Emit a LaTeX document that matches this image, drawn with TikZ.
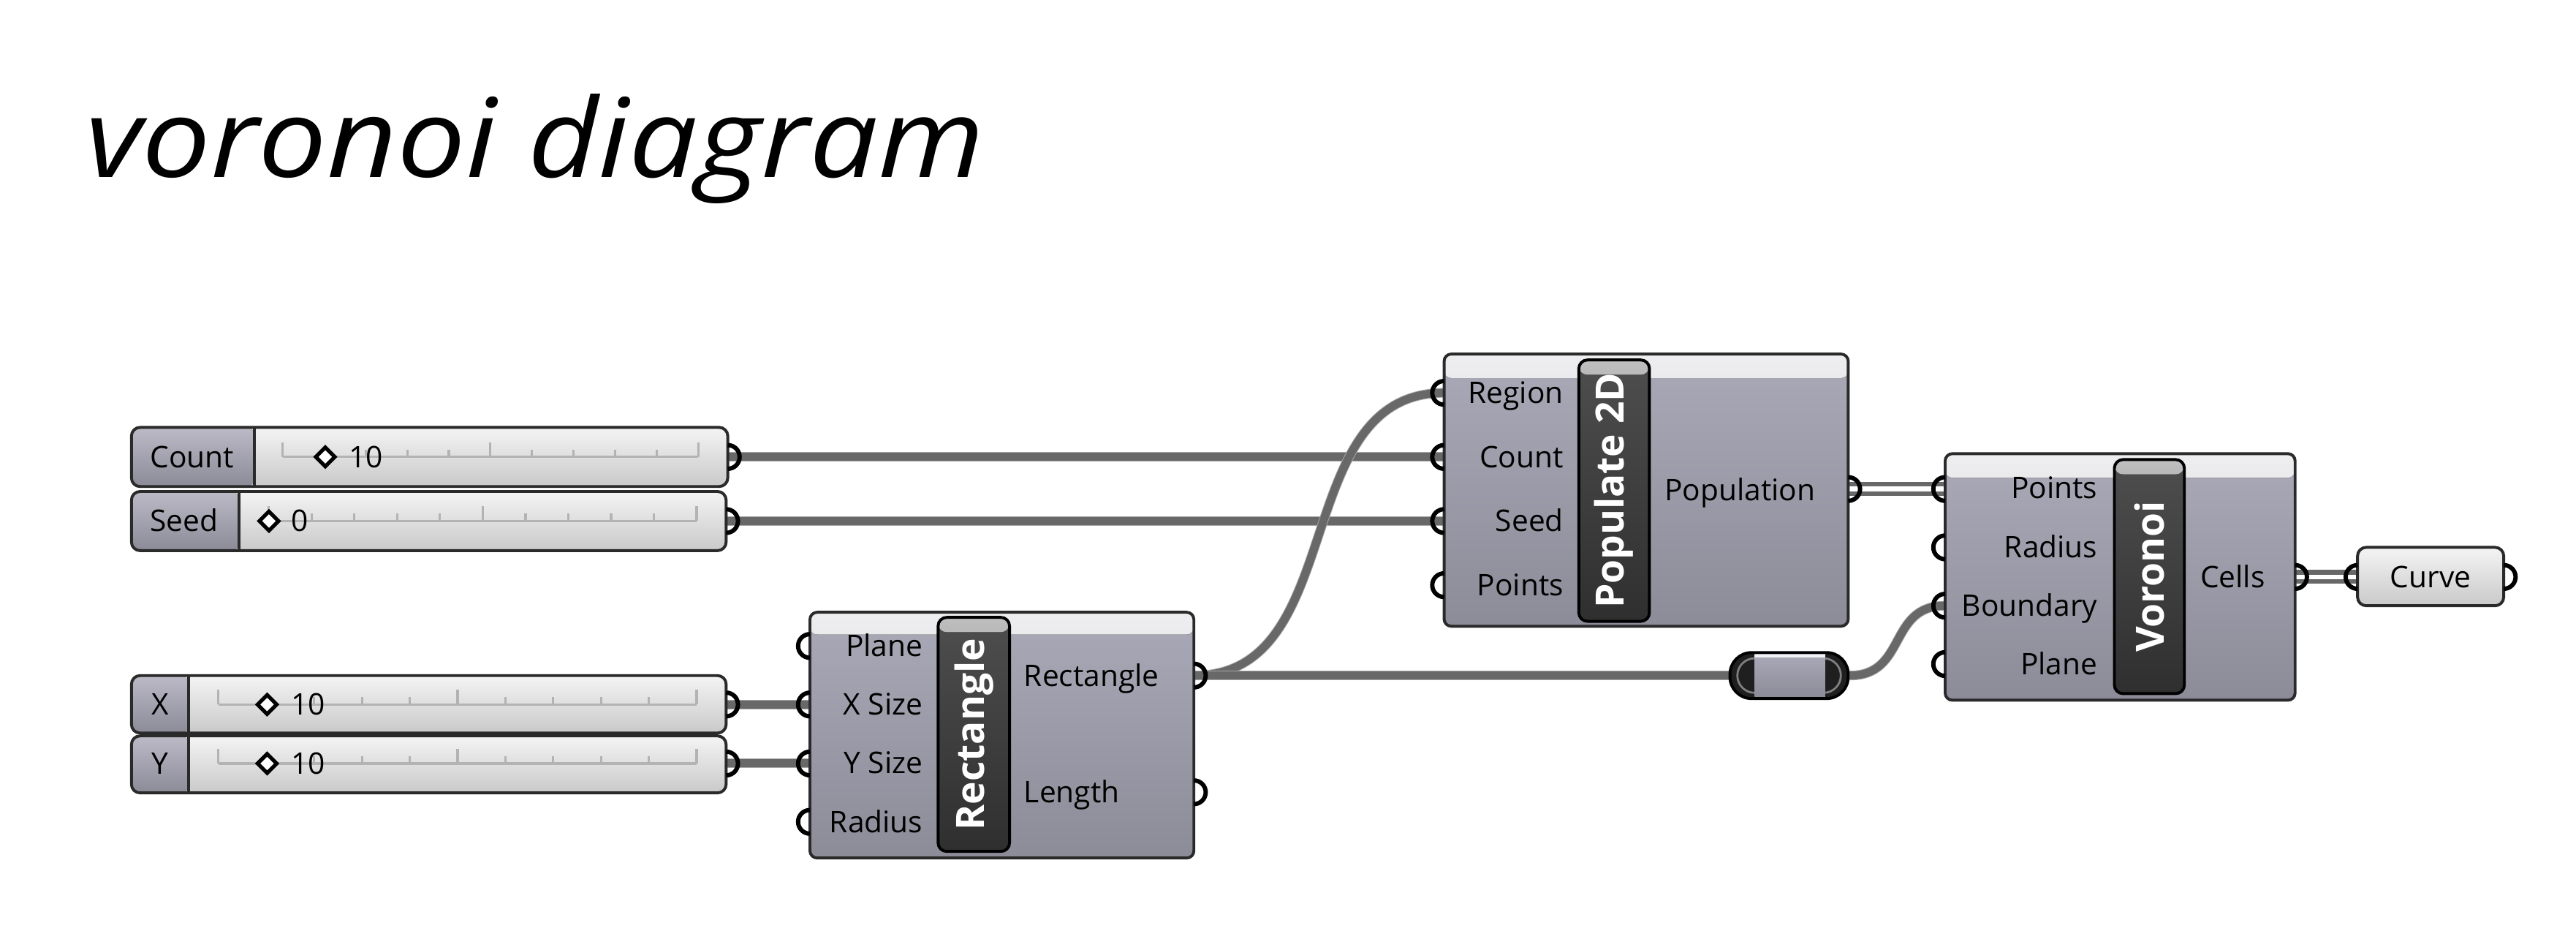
\documentclass[tikz,border=0pt]{standalone}
\usepackage{fontspec}
\setmainfont{Open Sans}
\usetikzlibrary{calc,fit,backgrounds}
\definecolor{gkwire}{HTML}{686868}
\definecolor{gkwireedge}{HTML}{A6A6A6}
\definecolor{gkbodytop}{HTML}{AAA9B7}
\definecolor{gkbodybot}{HTML}{8C8B98}
\definecolor{gkheadtop}{HTML}{EEEEF0}
\definecolor{gkheadbot}{HTML}{C9C9CE}
\definecolor{gkbdr}{HTML}{2A2A2A}
\definecolor{gkslidtop}{HTML}{F4F4F4}
\definecolor{gkslidbot}{HTML}{C9C9C9}
\definecolor{gklabtop}{HTML}{BBBAC6}
\definecolor{gklabbot}{HTML}{8B8A97}
\definecolor{gktrk}{HTML}{B3B3B3}
\definecolor{gkbartop}{HTML}{4E4E4E}
\definecolor{gkbarbot}{HTML}{2F2F2F}
\definecolor{gkring}{HTML}{808080}
\newcommand{\lblfont}{\fontsize{10.3}{12}\selectfont}
\newcommand{\barfont}{\fontsize{13.5}{16}\selectfont\bfseries}
\newcommand{\ttlfont}{\fontsize{38}{44}\selectfont\itshape}
\newcommand{\sltrack}[3]{%
  \draw[gktrk,line width=0.8pt] (#1,#3) -- (#2,#3);
  \foreach \k in {0,...,10}{%
    \pgfmathsetmacro{\sltx}{#1+\k*(#2-#1)/10}%
    \pgfmathsetmacro{\slth}{ifthenelse(mod(\k,5)==0,9,4.5)}%
    \draw[gktrk,line width=0.8pt] (\sltx,#3) -- (\sltx,#3-\slth);
  }}
\newcommand{\sldiam}[2]{%
  \draw[fill=white,line width=1.3pt,line join=miter] (#1,#2-5.8) -- (#1+5.8,#2) -- (#1,#2+5.8) -- (#1-5.8,#2) -- cycle;}
\newcommand{\portin}[1]{\draw[line width=1.5pt] ([yshift=4.1pt]#1) arc[start angle=90,end angle=270,radius=4.1pt];}
\newcommand{\portout}[1]{\draw[line width=1.5pt] ([yshift=4.1pt]#1) arc[start angle=90,end angle=-90,radius=4.1pt];}
\begin{document}
\begin{tikzpicture}[x=0.02cm,y=-0.02cm,
  comp/.style={draw=gkbdr,line width=1pt,rounded corners=2.5pt,top color=gkbodytop,bottom color=gkbodybot,inner sep=0pt,
    path picture={\fill[top color=gkheadtop,bottom color=gkheadbot] (path picture bounding box.north west) rectangle ($(path picture bounding box.north east)+(0,#1)$);}},
  compbar/.style={draw=black,line width=1pt,rounded corners=3pt,top color=gkbartop,bottom color=gkbarbot,inner sep=0pt,
    path picture={\fill[top color=black!25,bottom color=gkbartop] (path picture bounding box.north west) rectangle ($(path picture bounding box.north east)+(0,9)$);}},
  bartext/.style={font=\barfont,text=white,rotate=90,inner sep=0pt},
  slider/.style={draw=gkbdr,line width=1pt,rounded corners=3pt,top color=gkslidtop,bottom color=gkslidbot,inner sep=0pt,
    path picture={\fill[top color=gklabtop,bottom color=gklabbot] (path picture bounding box.north west) rectangle ($(path picture bounding box.south west)+(#1,0)$);
      \draw[gkbdr,line width=1pt] ($(path picture bounding box.north west)+(#1,0)$) -- ($(path picture bounding box.south west)+(#1,0)$);}},
  param/.style={draw=gkbdr,line width=1pt,rounded corners=3pt,top color=gkslidtop,bottom color=gkslidbot,inner sep=0pt},
  relay/.style={draw=black,fill=black!88,line width=1pt,rounded corners=7.5pt,inner sep=0pt},
  lblE/.style={font=\lblfont,inner sep=0pt,anchor=base east},
  lblW/.style={font=\lblfont,inner sep=0pt,anchor=base west},
  lblC/.style={font=\lblfont,inner sep=0pt,anchor=base},
  wire/.style={draw=gkwire,line width=2.8pt,preaction={draw=gkwireedge,line width=3.3pt}},
  listwire/.style={draw=gkwire,line width=1.6pt,double=white,double distance=1.6pt},
]
\useasboundingbox (0,0) rectangle (1568,566);

% title
\node[font=\ttlfont,inner sep=0pt,anchor=base west,xscale=1.11] (title) at (52,108) {voronoi diagram};

% sliders
\node[slider=75,fit={(80,260)(443,296)}] (count) {};
\node[lblC] (countlbl) at (117,284.4) {Count};
\sltrack{172}{425}{278}
\sldiam{198}{278}
\node[lblW] (countval) at (212,284.4) {10};

\node[slider=65.6,fit={(80,299)(442,335)}] (seed) {};
\node[lblC] (seedlbl) at (112,323.4) {Seed};
\sltrack{163.7}{424}{317}
\sldiam{163.7}{317}
\node[lblW] (seedval) at (177,323.4) {0};

\node[slider=35,fit={(80,411)(442,446)}] (xs) {};
\node[lblC] (xslbl) at (97.5,435) {X};
\sltrack{133}{424}{428.6}
\sldiam{162.6}{428.6}
\node[lblW] (xsval) at (177,435) {10};

\node[slider=35,fit={(80,447.7)(442,482.4)}] (ys) {};
\node[lblC] (yslbl) at (97.5,470.9) {Y};
\sltrack{133}{424}{464.5}
\sldiam{162.6}{464.5}
\node[lblW] (ysval) at (177,470.9) {10};

% Rectangle component
\node[comp=13.5,fit={(493,372.5)(726.7,522)}] (rect) {};
\node[compbar,fit={(571,375.6)(614.5,518)}] (rectbar) {};
\node[bartext] (recttitle) at (rectbar.center) {Rectangle};
\node[lblE] (r1) at (562,399.4) {Plane};
\node[lblE] (r2) at (562,435) {X Size};
\node[lblE] (r3) at (562,470.4) {Y Size};
\node[lblE] (r4) at (562,506.4) {Radius};
\node[lblW] (r5) at (623,417.4) {Rectangle};
\node[lblW] (r6) at (623,488.4) {Length};

% Populate 2D component
\node[comp=14.6,fit={(879,215.4)(1125,381)}] (pop) {};
\node[compbar,fit={(961,219)(1004,378)}] (popbar) {};
\node[bartext] (poptitle) at (popbar.center) {Populate 2D};
\node[lblE] (p1) at (952,245.4) {Region};
\node[lblE] (p2) at (952,284.4) {Count};
\node[lblE] (p3) at (952,323.4) {Seed};
\node[lblE] (p4) at (952,362.4) {Points};
\node[lblW] (p5) at (1013,304.4) {Population};

% Voronoi component
\node[comp=14.6,fit={(1184,276)(1397,426)}] (vor) {};
\node[compbar,fit={(1287,279.6)(1329.6,422)}] (vorbar) {};
\node[bartext] (vortitle) at (vorbar.center) {Voronoi};
\node[lblE] (v1) at (1277,303.4) {Points};
\node[lblE] (v2) at (1277,339.4) {Radius};
\node[lblE] (v3) at (1277,374.9) {Boundary};
\node[lblE] (v4) at (1277,410.4) {Plane};
\node[lblW] (v5) at (1339,357.4) {Cells};

% Curve parameter
\node[param,fit={(1435,333)(1524,368.5)}] (curve) {};
\node[lblC] (curvelbl) at (1479.5,357.4) {Curve};

% relay
\node[relay,fit={(1053,397)(1125,425)}] (relay) {};
\draw[gkring,line width=0.7pt,rounded corners=6pt] (1057.5,400.5) rectangle (1120.5,421.5);
\fill[top color=gkbodytop,bottom color=gkbodybot] (1068,398.2) rectangle (1111,423.8);
\fill[white!85!gkbodytop] (1068,398.2) rectangle (1111,400.2);

% port coordinates
\coordinate (count-o) at (443,278);
\coordinate (seed-o) at (442,317);
\coordinate (xs-o) at (442,428.6);
\coordinate (ys-o) at (442,464.5);
\coordinate (rect-i1) at (493,393);
\coordinate (rect-i2) at (493,428.6);
\coordinate (rect-i3) at (493,464.5);
\coordinate (rect-i4) at (493,500);
\coordinate (rect-o1) at (726.7,411);
\coordinate (rect-o2) at (726.7,482);
\coordinate (pop-i1) at (879,239);
\coordinate (pop-i2) at (879,278);
\coordinate (pop-i3) at (879,317);
\coordinate (pop-i4) at (879,356);
\coordinate (pop-o) at (1125,297.5);
\coordinate (vor-i1) at (1184,297.5);
\coordinate (vor-i2) at (1184,333);
\coordinate (vor-i3) at (1184,368.5);
\coordinate (vor-i4) at (1184,404);
\coordinate (vor-o) at (1397,351);
\coordinate (curve-i) at (1435,351);
\coordinate (curve-o) at (1524,351);

% wires
\begin{scope}[on background layer]
\fill[white] (0,0) rectangle (1568,566);
\draw[wire] (count-o) -- (pop-i2);
\draw[wire] (seed-o) -- (pop-i3);
\draw[wire] (xs-o) -- (rect-i2);
\draw[wire] (ys-o) -- (rect-i3);
\draw[wire] (rect-o1) .. controls +(95,0) and +(-95,0) .. (pop-i1);
\draw[wire] (rect-o1) -- (relay.west);
\draw[wire] (relay.east) .. controls +(35,0) and +(-35,0) .. (vor-i3);
\draw[listwire] (pop-o) -- (vor-i1);
\draw[listwire] (vor-o) -- (curve-i);
\end{scope}

% ports
\portout{count-o}
\portout{seed-o}
\portout{xs-o}
\portout{ys-o}
\portin{rect-i1}
\portin{rect-i2}
\portin{rect-i3}
\portin{rect-i4}
\portout{rect-o1}
\portout{rect-o2}
\portin{pop-i1}
\portin{pop-i2}
\portin{pop-i3}
\portin{pop-i4}
\portout{pop-o}
\portin{vor-i1}
\portin{vor-i2}
\portin{vor-i3}
\portin{vor-i4}
\portout{vor-o}
\portin{curve-i}
\portout{curve-o}
\end{tikzpicture}
\end{document}
